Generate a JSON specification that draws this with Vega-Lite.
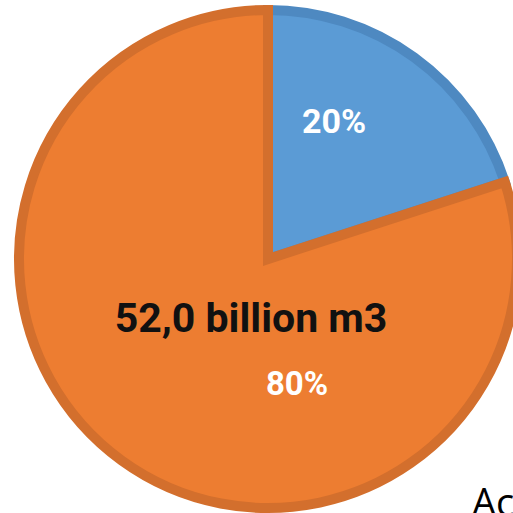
{
  "$schema": "https://vega.github.io/schema/vega-lite/v6.json",
  "width": 536,
  "height": 518,
  "autosize": {"type": "none"},
  "padding": 0,
  "background": "white",
  "config": {"view": {"stroke": null}},
  "datasets": {
    "shares": [
      {"segment": "Segment 1", "value": 20, "label": "20%"},
      {"segment": "Segment 2", "value": 80, "label": "80%"}
    ],
    "notes": [
      {"note": "total", "text": "52,0 billion m3"},
      {"note": "cut", "text": "Ac"}
    ]
  },
  "layer": [
    {
      "data": {"name": "shares"},
      "mark": {"type": "arc", "radius": 249, "strokeWidth": 10, "strokeJoin": "miter"},
      "encoding": {
        "theta": {"field": "value", "type": "quantitative", "stack": true},
        "order": {"field": "segment", "sort": "ascending"},
        "color": {"field": "segment", "type": "nominal", "legend": null,
          "scale": {"domain": ["Segment 1", "Segment 2"], "range": ["#5B9BD5", "#ED7D31"]}},
        "stroke": {"field": "segment", "type": "nominal", "legend": null,
          "scale": {"domain": ["Segment 1", "Segment 2"], "range": ["#4E89C1", "#D36F2D"]}}
      }
    },
    {
      "data": {"name": "shares"},
      "transform": [{"filter": "datum.segment == 'Segment 1'"}],
      "mark": {"type": "text", "dx": 66, "dy": -136, "align": "center", "baseline": "middle",
        "font": "Roboto", "fontWeight": "bold", "fontSize": 34, "fill": "white"},
      "encoding": {"text": {"field": "label"}}
    },
    {
      "data": {"name": "shares"},
      "transform": [{"filter": "datum.segment == 'Segment 2'"}],
      "mark": {"type": "text", "dx": 29, "dy": 126, "align": "center", "baseline": "middle",
        "font": "Roboto", "fontWeight": "bold", "fontSize": 33, "fill": "white"},
      "encoding": {"text": {"field": "label"}}
    },
    {
      "data": {"name": "notes"},
      "transform": [{"filter": "datum.note == 'total'"}],
      "mark": {"type": "text", "dx": -17, "dy": 61, "align": "center", "baseline": "middle",
        "font": "Roboto", "fontWeight": "bold", "fontSize": 41, "fill": "#111111"},
      "encoding": {"text": {"field": "text"}}
    },
    {
      "data": {"name": "notes"},
      "transform": [{"filter": "datum.note == 'cut'"}],
      "mark": {"type": "text", "dx": 204, "dy": 257, "align": "left", "baseline": "alphabetic",
        "font": "Open Sans", "fontSize": 38, "fill": "black"},
      "encoding": {"text": {"field": "text"}}
    }
  ]
}
